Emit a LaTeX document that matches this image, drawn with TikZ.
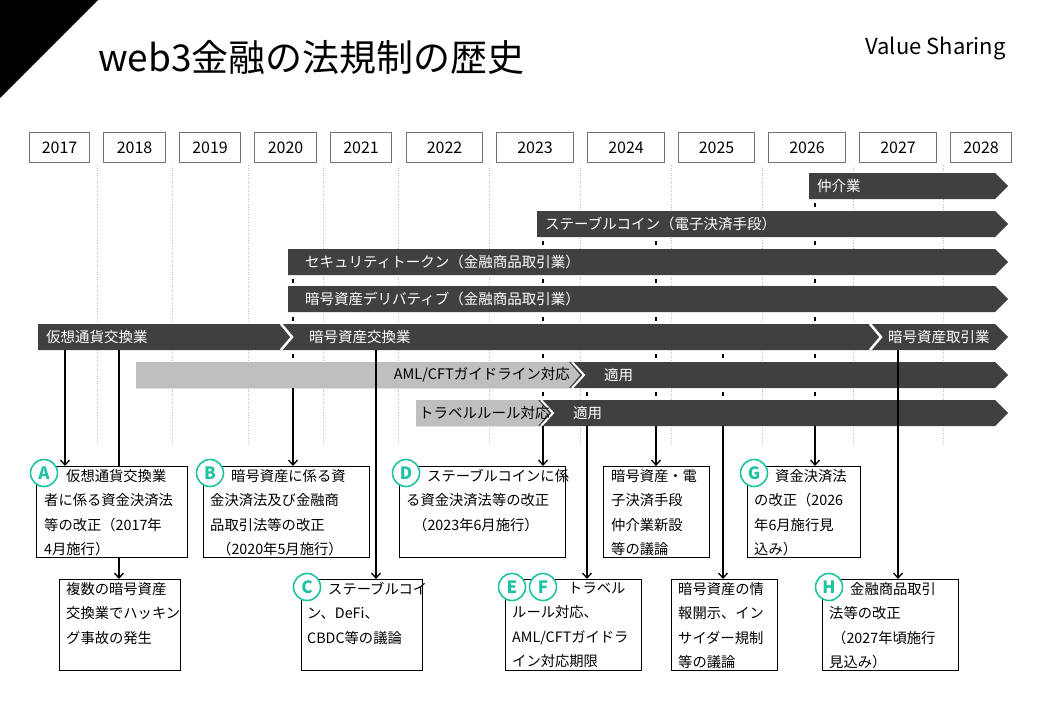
\documentclass[tikz,border=0pt]{standalone}
\usepackage{fontspec}
\setmainfont{Noto Sans CJK JP}
\usetikzlibrary{arrows.meta}
\definecolor{dark}{HTML}{404040}
\definecolor{lgray}{HTML}{BFBFBF}
\definecolor{teal2}{HTML}{1FC3A3}
\begin{document}
\begin{tikzpicture}[x=1pt,y=-1pt,
  yr/.style={draw=gray!90!black,line width=1.2pt,minimum height=30pt,inner sep=0pt,font=\fontsize{16}{18}\selectfont,anchor=north west},
  bt/.style={text=white,font=\fontsize{14.5}{17}\selectfont,anchor=west,inner sep=0pt},
  btk/.style={text=black,font=\fontsize{14.5}{17}\selectfont,anchor=west,inner sep=0pt},
  box/.style={draw,line width=0.8pt,anchor=north west,inner sep=0pt},
  bx/.style={anchor=north west,align=left,font=\fontsize{14.3}{24.5}\selectfont,inner sep=0pt},
  bdg/.style={circle,draw=teal2,fill=white,line width=1.6pt,minimum size=27pt,inner sep=0pt,text=teal2,font=\fontsize{17}{17}\selectfont\bfseries},
  arr/.style={line width=1.3pt,-{Straight Barb[length=5pt,width=9pt]}},
  ln/.style={line width=1.3pt},
  tick/.style={line width=1.3pt}]
\useasboundingbox (0,0) rectangle (1040,720);
\fill[black] (0,0) -- (98,0) -- (0,98) -- cycle;
\node[anchor=west,font=\fontsize{37}{38}\selectfont,inner sep=0pt] (title) at (98,57) {web3金融の法規制の歴史};
\node[anchor=east,font=\fontsize{22}{23}\selectfont,inner sep=0pt] (vs) at (1006,48) {Value Sharing};
% years
\foreach \a/\b/\y in {29/89/2017,103/165/2018,179/240/2019,254/316/2020,330/391/2021,406/482/2022,496/573/2023,587/664/2024,678/754/2025,768/845/2026,859/936/2027,950/1011/2028}{
  \node[yr,minimum width={(\b-\a)*1pt}] (y\y) at (\a,132) {\y};}
\foreach \x in {97,172,248,323,398,489,580,671,762,853,943}{
  \draw[gray!50,dotted,line width=0.6pt] (\x,165) -- (\x,445);}
% bars
\newcommand\mybar[2]{\fill[dark] (#1,#2) -- (995,#2) -- (1008,{#2+13}) -- (995,{#2+26}) -- (#1,{#2+26}) -- cycle;}
\mybar{809}{173}
\node[bt] (t1) at (817,186) {仲介業};
\mybar{537}{211}
\node[bt] (t2) at (545,224) {ステーブルコイン（電子決済手段）};
\mybar{288}{249}
\node[bt] (t3) at (305,262) {セキュリティトークン（金融商品取引業）};
\mybar{288}{286}
\node[bt] (t4) at (305,299) {暗号資産デリバティブ（金融商品取引業）};
\mybar{38}{324}
\draw[white,line width=2.5pt] (281,324) -- (292,337) -- (281,350);
\draw[white,line width=2.5pt] (870,324) -- (881,337) -- (870,350);
\node[bt] (t5) at (46,337) {仮想通貨交換業};
\node[bt] (t6) at (309,337) {暗号資産交換業};
\node[bt] (t7) at (888,337) {暗号資産取引業};
\mybar{136}{362}
\fill[lgray] (136,362) -- (569,362) -- (580,375) -- (569,388) -- (136,388) -- cycle;
\draw[white,line width=2pt] (572,362) -- (584,375) -- (572,388);
\node[btk,anchor=east] (t8) at (570,375) {AML/CFTガイドライン対応};
\node[bt] (t9) at (604,375) {適用};
\mybar{416}{400}
\fill[lgray] (416,400) -- (538,400) -- (549,413) -- (538,426) -- (416,426) -- cycle;
\draw[white,line width=2pt] (541,400) -- (553,413) -- (541,426);
\node[btk] (t10) at (419,413) {トラベルルール対応};
\node[bt] (t11) at (573,413) {適用};
% ticks in gaps
\foreach \x/\ys in {293/{275,313,350},543/{237,275,313,350,388},656/{237,275,313,350,388},815/{199,237,275,313,350,388},723/{350,388},587/{388}}{
  \foreach \yy in \ys {\draw[tick] (\x,{\yy+4}) -- (\x,{\yy+8});}}
\coordinate (s1) at (65,350); \coordinate (s2) at (119,350);
\coordinate (s3) at (293,388); \coordinate (s4) at (376,350);
\coordinate (s5) at (543,426); \coordinate (s6) at (587,426);
\coordinate (s7) at (656,426); \coordinate (s8) at (723,426);
\coordinate (s9) at (815,426); \coordinate (s10) at (898,350);
% boxes
\node[box,minimum width=151pt,minimum height=91pt] (A) at (36,466) {};
\node[box,minimum width=166pt,minimum height=91pt] (B) at (203,466) {};
\node[box,minimum width=166pt,minimum height=91pt] (D) at (399,466) {};
\node[box,minimum width=106pt,minimum height=91pt] (K) at (603,466) {};
\node[box,minimum width=113pt,minimum height=91pt] (G) at (747,466) {};
\node[box,minimum width=121pt,minimum height=91pt] (P) at (59,579) {};
\node[box,minimum width=121pt,minimum height=91pt] (C) at (301,579) {};
\node[box,minimum width=136pt,minimum height=91pt] (EF) at (505,579) {};
\node[box,minimum width=106pt,minimum height=91pt] (J) at (671,579) {};
\node[box,minimum width=136pt,minimum height=91pt] (H) at (822,579) {};
\draw[arr] (s1) -- (s1 |- A.north);
\draw[ln] (s2) -- (s2 |- A.north);
\draw[arr] (s2 |- A.south) -- (s2 |- P.north);
\draw[arr] (s3) -- (s3 |- B.north);
\draw[arr] (s4) -- (s4 |- C.north);
\draw[arr] (s5) -- (s5 |- D.north);
\draw[arr] (s6) -- (s6 |- EF.north);
\draw[arr] (s7) -- (s7 |- K.north);
\draw[arr] (s8) -- (s8 |- J.north);
\draw[arr] (s9) -- (s9 |- G.north);
\draw[arr] (s10) -- (s10 |- H.north);
% box texts
\node[bx] at (44,469) {\hspace{22pt}仮想通貨交換業\\者に係る資金決済法\\等の改正（2017年\\4月施行）};
\node[bx] at (210,469) {\hspace{21pt}暗号資産に係る資\\金決済法及び金融商\\品取引法等の改正\\\hspace{7pt}（2020年5月施行）};
\node[bx] at (406,469) {\hspace{21pt}ステーブルコインに係\\る資金決済法等の改正\\\hspace{7pt}（2023年6月施行）};
\node[bx] at (611,469) {暗号資産・電\\子決済手段\\仲介業新設\\等の議論};
\node[bx] at (754,469) {\hspace{21pt}資金決済法\\の改正（2026\\年6月施行見\\込み）};
\node[bx] at (66,582) {複数の暗号資産\\交換業でハッキン\\グ事故の発生};
\node[bx] at (307,582) {\hspace{21pt}ステーブルコイ\\ン、DeFi、\\CBDC等の議論};
\node[bx] at (512,582) {\hspace{56pt}トラベル\\ルール対応、\\AML/CFTガイドラ\\イン対応期限};
\node[bx] at (678,582) {暗号資産の情\\報開示、イン\\サイダー規制\\等の議論};
\node[bx] at (829,582) {\hspace{21pt}金融商品取引\\法等の改正\\\hspace{3pt}（2027年頃施行\\見込み）};
% badges
\node[bdg] (bA) at (44,473) {A};
\node[bdg] (bB) at (210,473) {B};
\node[bdg] (bD) at (406,473) {D};
\node[bdg] (bG) at (754,473) {G};
\node[bdg] (bC) at (307,587) {C};
\node[bdg] (bE) at (512,587) {E};
\node[bdg] (bF) at (543,587) {F};
\node[bdg] (bH) at (829,587) {H};
\end{tikzpicture}
\end{document}
